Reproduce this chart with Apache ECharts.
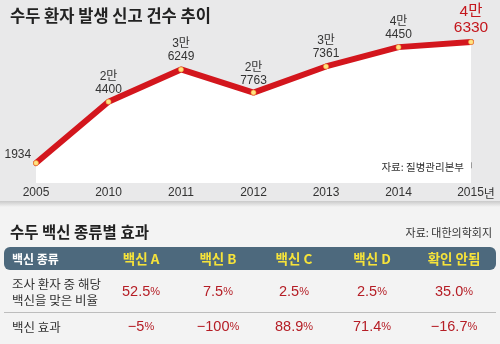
<!DOCTYPE html>
<html><head><meta charset="utf-8">
<script src="https://cdn.jsdelivr.net/npm/echarts/dist/echarts.min.js"></script>
<style>html,body{margin:0;padding:0;background:#f3f3f3;}#c{width:500px;height:344px;}</style>
</head><body><div id="c"></div>
<script>
// ---- data ----
const years = ['2005', '2010', '2011', '2012', '2013', '2014', '2015'];
const cases = [1934, 24400, 36249, 27763, 37361, 44450, 46330];
const chartTitle = '수두 환자 발생 신고 건수 추이';
const chartSource = '자료: 질병관리본부';
const tableTitle = '수두 백신 종류별 효과';
const tableSource = '자료: 대한의학회지';
const headerLabel = '백신 종류';
const vaccines = ['백신 A', '백신 B', '백신 C', '백신 D', '확인 안됨'];
const rowLabel1 = ['조사 환자 중 해당', '백신을 맞은 비율'];
const rowLabel2 = '백신 효과';
const rates = ['52.5', '7.5', '2.5', '2.5', '35.0'];
const effects = ['−5', '−100', '88.9', '71.4', '−16.7'];

// ---- layout ----
const NUM = "'Liberation Sans','Noto Sans CJK KR',sans-serif";
const KR = "'Noto Sans CJK KR','Noto Sans',sans-serif";
const colX = [141, 218, 294, 372, 454];
const RED = '#b51d25';

const chart = echarts.init(document.getElementById('c'), null, {renderer: 'canvas'});

function fmt(v) {
  if (v < 10000) return String(v);
  return Math.floor(v / 10000) + '만\n' + String(v % 10000).padStart(4, '0');
}

const seriesData = cases.map((v, i) => {
  const d = {value: v};
  if (i === 0) {
    d.label = {position: 'left', offset: [0, -8], distance: 2};
  } else if (i === cases.length - 1) {
    d.label = {color: '#c4161c', fontSize: 15.5, lineHeight: 16, distance: 3};
  }
  return d;
});

const graphics = [];
graphics.push({type: 'rect', z: -10, silent: true, shape: {x: 0, y: 0, width: 500, height: 201}, style: {fill: '#e9e9ea'}});
graphics.push({type: 'rect', z: -10, silent: true, shape: {x: 0, y: 201, width: 500, height: 6},
  style: {fill: new echarts.graphic.LinearGradient(0, 0, 0, 1, [{offset: 0, color: '#c9c9c9'}, {offset: 1, color: '#f3f3f3'}])}});
graphics.push({type: 'text', z: 10, style: {text: chartTitle, x: 10, y: 16, textVerticalAlign: 'middle', font: 'bold 16.5px ' + KR, fill: '#222'}});
graphics.push({type: 'text', z: 10, style: {text: chartSource, x: 464, y: 167, textAlign: 'right', textVerticalAlign: 'middle', font: '10.5px ' + KR, fill: '#333'}});
graphics.push({type: 'text', z: 10, style: {text: tableTitle, x: 10, y: 232, textVerticalAlign: 'middle', font: 'bold 15.5px ' + KR, fill: '#222'}});
graphics.push({type: 'text', z: 10, style: {text: tableSource, x: 492, y: 233, textAlign: 'right', textVerticalAlign: 'middle', font: '11px ' + KR, fill: '#333'}});
graphics.push({type: 'rect', z: 5, shape: {x: 4, y: 247, width: 492, height: 23, r: 6}, style: {fill: '#4d697d'}});
graphics.push({type: 'text', z: 10, style: {text: headerLabel, x: 12, y: 259, textVerticalAlign: 'middle', font: 'bold 12px ' + KR, fill: '#fff'}});
vaccines.forEach((v, i) => {
  graphics.push({type: 'text', z: 10, style: {text: v, x: colX[i], y: 259, textAlign: 'center', textVerticalAlign: 'middle', font: 'bold 13.5px ' + KR, fill: '#f6e33a'}});
});
graphics.push({type: 'text', z: 10, style: {text: rowLabel1[0], x: 12, y: 284, textVerticalAlign: 'middle', font: '12.5px ' + KR, fill: '#333'}});
graphics.push({type: 'text', z: 10, style: {text: rowLabel1[1], x: 12, y: 300, textVerticalAlign: 'middle', font: '12.5px ' + KR, fill: '#333'}});
graphics.push({type: 'line', z: 5, shape: {x1: 4, y1: 312.5, x2: 496, y2: 312.5}, style: {stroke: '#bdbdbd', lineWidth: 1}});
graphics.push({type: 'text', z: 10, style: {text: rowLabel2, x: 12, y: 327, textVerticalAlign: 'middle', font: '12.5px ' + KR, fill: '#333'}});
const rich = {
  n: {fontFamily: NUM, fontSize: 14.5, fill: RED, color: RED},
  p: {fontFamily: NUM, fontSize: 11, fill: RED, color: RED}
};
rates.forEach((v, i) => {
  graphics.push({type: 'text', z: 10, style: {text: '{n|' + v + '}{p|%}', rich: rich, fill: RED, x: colX[i], y: 292, textAlign: 'center', textVerticalAlign: 'middle'}});
});
effects.forEach((v, i) => {
  graphics.push({type: 'text', z: 10, style: {text: '{n|' + v + '}{p|%}', rich: rich, fill: RED, x: colX[i], y: 327, textAlign: 'center', textVerticalAlign: 'middle'}});
});

chart.setOption({
  animation: false,
  backgroundColor: '#f3f3f3',
  grid: {left: 36, right: 29, top: 32, bottom: 161},
  xAxis: {
    type: 'category', data: years, boundaryGap: false,
    axisLine: {show: false},
    axisTick: {show: true, inside: true, length: 6, interval: 0, lineStyle: {color: '#9a9a9a'}},
    axisLabel: {
      interval: 0, margin: 4, color: '#333', fontFamily: NUM, fontSize: 12,
      formatter: (v, i) => i === years.length - 1 ? '{s|}' + v + '{n|년}' : v,
      rich: {s: {width: 10}, n: {fontFamily: KR, fontSize: 12, color: '#333'}}
    }
  },
  yAxis: {type: 'value', min: -5400, max: 50000, show: false, splitLine: {show: false}},
  series: [{
    type: 'line', data: seriesData,
    lineStyle: {color: '#d3161d', width: 6, cap: 'round', join: 'round'},
    areaStyle: {color: '#ffffff', opacity: 1, origin: 'start'},
    symbol: 'circle', symbolSize: 5,
    itemStyle: {color: '#ffe384', borderColor: '#f0a030', borderWidth: 0.6},
    label: {show: true, position: 'top', distance: 3, formatter: p => fmt(p.value), color: '#333',
      fontFamily: NUM, fontSize: 12, lineHeight: 13}
  }],
  graphic: graphics
});
</script></body></html>
